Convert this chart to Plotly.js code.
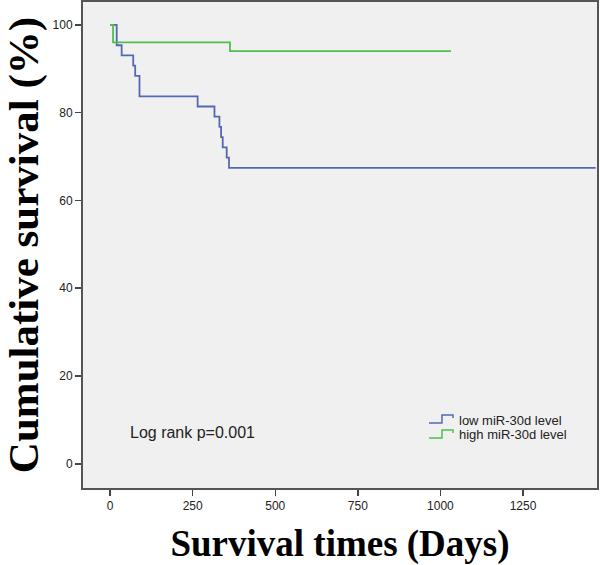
<!DOCTYPE html>
<html>
<head>
<meta charset="utf-8">
<script src="https://cdn.plot.ly/plotly-3.0.1.min.js"></script>
<style>html,body{margin:0;padding:0;background:#fff;}#chart{width:600px;height:565px;}</style>
</head>
<body>
<div id="chart"></div>
<script>
// Kaplan-Meier step data (days, cumulative survival %)
const lowDays  = [0, 20, 35, 70, 76, 89, 265, 316, 331, 336, 341, 353, 360, 1470];
const lowSurv  = [100, 95.35, 93.02, 90.70, 88.37, 83.72, 81.40, 79.07, 76.74, 74.42, 72.09, 69.77, 67.44, 67.44];
const highDays = [0, 9, 363, 1032];
const highSurv = [100, 96.0, 94.0, 94.0];
const seriesNames = ["low miR-30d level", "high miR-30d level"];
const seriesColors = ['#5468b2', '#4cc04c'];
const xTicks = [0, 250, 500, 750, 1000, 1250];
const yTicks = [0, 20, 40, 60, 80, 100];

const traces = [
  {x: lowDays, y: lowSurv, name: seriesNames[0], type: 'scatter', mode: 'lines',
   line: {shape: 'hv', color: seriesColors[0], width: 1.8}, showlegend: false},
  {x: highDays, y: highSurv, name: seriesNames[1], type: 'scatter', mode: 'lines',
   line: {shape: 'hv', color: seriesColors[1], width: 1.8}, showlegend: false}
];

// Custom legend (step-shaped symbols like SPSS), in paper coordinates
const legX0 = 0.6732, legX1 = 0.6984, legX2 = 0.7198, legTextX = 0.7276;
const legRows = [0.1399, 0.1091];
const shapes = [];
const annotations = [];
legRows.forEach((yc, i) => {
  const lo = yc - 0.0062, hi = yc + 0.0103, mid = yc + 0.0041;
  shapes.push({type: 'path', xref: 'paper', yref: 'paper',
    path: `M${legX0},${lo} L${legX1},${lo} L${legX1},${hi} L${legX2},${hi} L${legX2},${mid}`,
    line: {color: seriesColors[i], width: 1.5}});
  annotations.push({text: seriesNames[i], xref: 'paper', yref: 'paper', x: legTextX, y: yc,
    xanchor: 'left', yanchor: 'middle', showarrow: false,
    font: {family: 'Liberation Sans, Arial, sans-serif', size: 13, color: '#222'}});
});
annotations.push({
  text: 'Log rank p=0.001', xref: 'paper', yref: 'paper', x: 0.087, y: 0.115,
  xanchor: 'left', yanchor: 'middle', showarrow: false,
  font: {family: 'Liberation Sans, Arial, sans-serif', size: 16, color: '#222'}
});

const layout = {
  width: 600, height: 565,
  margin: {l: 83, r: 3, t: 2, b: 77},
  paper_bgcolor: '#ffffff',
  plot_bgcolor: '#f0f0f0',
  showlegend: false,
  xaxis: {
    range: [-82, 1474], tickvals: xTicks, ticktext: xTicks.map(String),
    ticks: 'outside', ticklen: 6, tickwidth: 1.5, tickcolor: '#444',
    showline: true, linecolor: '#555', linewidth: 2, mirror: true,
    showgrid: false, zeroline: false,
    tickfont: {family: 'Liberation Sans, Arial, sans-serif', size: 12, color: '#222'},
    title: {text: 'Survival times (Days)', standoff: 19,
      font: {family: 'Liberation Serif, Times New Roman, serif', size: 37, color: '#000', weight: 'bold'}}
  },
  yaxis: {
    range: [-5.5, 105.2], tickvals: yTicks, ticktext: yTicks.map(String),
    ticks: 'outside', ticklen: 6, tickwidth: 1.5, tickcolor: '#444',
    showline: true, linecolor: '#555', linewidth: 2, mirror: true,
    showgrid: false, zeroline: false,
    tickfont: {family: 'Liberation Sans, Arial, sans-serif', size: 12, color: '#222'},
    title: {text: 'Cumulative survival (%)', standoff: 4,
      font: {family: 'Liberation Serif, Times New Roman, serif', size: 43, color: '#000', weight: 'bold'}}
  },
  shapes: shapes,
  annotations: annotations
};

Plotly.newPlot('chart', traces, layout, {displayModeBar: false, staticPlot: true});
</script>
</body>
</html>
